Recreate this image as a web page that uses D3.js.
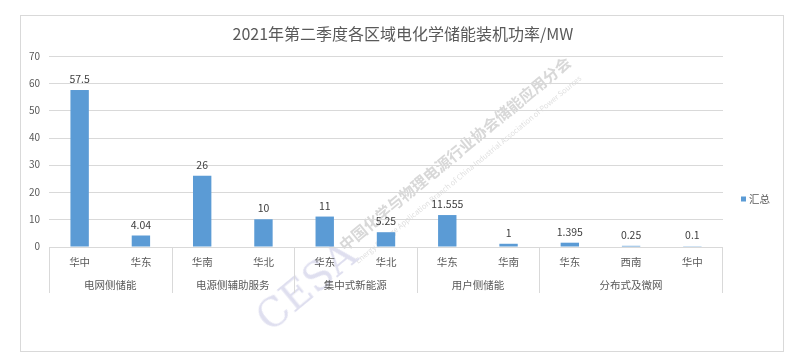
<!DOCTYPE html>
<html><head>
<meta charset="utf-8">
<script src="https://d3js.org/d3.v7.min.js"></script>
<style>
  body { margin: 0; background: #fff; }
  text { font-family: "Noto Sans CJK SC", "Noto Sans", sans-serif; }
</style>
</head>
<body>
<svg id="chart" width="800" height="359"></svg>
<script>
// data
const groups = ["电网侧储能", "电源侧辅助服务", "集中式新能源", "用户侧储能", "分布式及微网"];
const groupSizes = [2, 2, 2, 2, 3];
const regions = ["华中", "华东", "华南", "华北", "华东", "华北", "华东", "华南", "华东", "西南", "华中"];
const values = [57.5, 4.04, 26, 10, 11, 5.25, 11.555, 1, 1.395, 0.25, 0.1];
const yTicks = [0, 10, 20, 30, 40, 50, 60, 70];

let svg = d3.select("svg#chart");
const margins = {top: 56, left: 49, right: 77, bottom: 112.5};
const width = 800, height = 359;
const textColor = "#595959";

// outer frame
svg.append("rect")
   .attr("x", 20.5).attr("y", 15.5)
   .attr("width", 763).attr("height", 336)
   .style("fill", "#fff").style("stroke", "#d9d9d9");

let x = d3.scaleBand()
          .domain(d3.range(values.length))
          .range([margins.left, width - margins.right])
          .paddingInner(0.7).paddingOuter(0.35);

let y = d3.scaleLinear()
          .domain([0, 70])
          .range([height - margins.bottom, margins.top]);

// watermark
let wm = svg.append("g").attr("opacity", 0.9);
wm.append("text")
  .attr("transform", "translate(345,252) rotate(-39.5)")
  .style("font-size", "15.5px").style("fill", "#d4d4d4").style("font-weight", "bold")
  .text("中国化学与物理电源行业协会储能应用分会");
wm.append("text")
  .attr("transform", "translate(358,264) rotate(-39.5)")
  .style("font-size", "7.5px").style("fill", "#dcdcdc")
  .text("Energy Storage Application Branch of China Industrial Association of Power Sources");
wm.append("text")
  .attr("transform", "translate(270,333) rotate(-39.5)")
  .style("font-size", "40px").style("fill", "#dcdcee")
  .style("font-family", "'DejaVu Serif', 'Liberation Serif', serif")
  .text("CESA");

// horizontal gridlines
yTicks.forEach(t => {
  if (t > 0) {
    svg.append("line")
       .attr("x1", margins.left).attr("x2", width - margins.right)
       .attr("y1", Math.round(y(t)) + 0.5).attr("y2", Math.round(y(t)) + 0.5)
       .style("stroke", "#d9d9d9").style("stroke-width", 1);
  }
  svg.append("text")
     .attr("x", 40).attr("y", y(t) + 3.5)
     .attr("text-anchor", "end")
     .style("font-size", "10px").style("fill", textColor)
     .text(t);
});

// bars
values.forEach((v, i) => {
  svg.append("rect")
     .attr("x", x(i)).attr("y", y(v))
     .attr("width", x.bandwidth()).attr("height", y(0) - y(v))
     .style("fill", "#5b9bd5");
  svg.append("text")
     .attr("x", x(i) + x.bandwidth() / 2).attr("y", y(v) - 7)
     .attr("text-anchor", "middle")
     .style("font-size", "10.5px").style("fill", "#404040")
     .text(v);
  svg.append("text")
     .attr("x", x(i) + x.bandwidth() / 2).attr("y", 266)
     .attr("text-anchor", "middle")
     .style("font-size", "10.5px").style("fill", textColor)
     .text(regions[i]);
});

// baseline and group separators
const y0 = Math.round(y(0)) + 0.5;
svg.append("line")
   .attr("x1", margins.left).attr("x2", width - margins.right)
   .attr("y1", y0).attr("y2", y0)
   .style("stroke", "#d9d9d9");

let start = 0;
const step = x.step();
const left0 = margins.left;
groupSizes.forEach((n, g) => {
  const gx0 = left0 + start * step;
  const gx1 = left0 + (start + n) * step;
  svg.append("line")
     .attr("x1", Math.round(gx0) + 0.5).attr("x2", Math.round(gx0) + 0.5)
     .attr("y1", y0).attr("y2", 293)
     .style("stroke", "#d9d9d9");
  svg.append("text")
     .attr("x", (gx0 + gx1) / 2).attr("y", 289)
     .attr("text-anchor", "middle")
     .style("font-size", "10.5px").style("fill", textColor)
     .text(groups[g]);
  start += n;
});
svg.append("line")
   .attr("x1", Math.round(width - margins.right) - 0.5).attr("x2", Math.round(width - margins.right) - 0.5)
   .attr("y1", y0).attr("y2", 293)
   .style("stroke", "#d9d9d9");

// title
svg.append("text")
   .attr("x", 403).attr("y", 40)
   .attr("text-anchor", "middle")
   .style("font-size", "16px").style("fill", textColor)
   .text("2021年第二季度各区域电化学储能装机功率/MW");

// legend
svg.append("rect")
   .attr("x", 741).attr("y", 196.5).attr("width", 5).attr("height", 5)
   .style("fill", "#5b9bd5");
svg.append("text")
   .attr("x", 749).attr("y", 203)
   .style("font-size", "10.5px").style("fill", textColor)
   .text("汇总");
</script>
</body></html>
